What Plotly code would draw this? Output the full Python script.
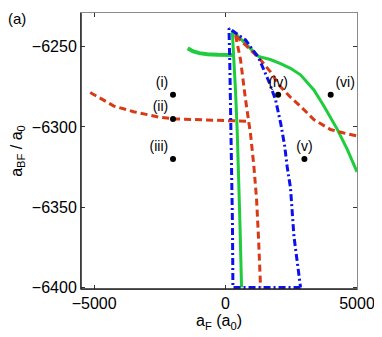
import plotly.graph_objects as go

# ── data ────────────────────────────────────────────────────────────────────
green_flat_x = [-1440, -1250, -1000, -700, -300, 100, 320]
green_flat_y = [-6251, -6252.8, -6254, -6254.7, -6255, -6255.2, -6255.2]

green_steep_x = [255, 330, 380, 444, 494, 550, 608]
green_steep_y = [-6240, -6260, -6278, -6303, -6326, -6362, -6400]

green_right_x = [255, 700, 1250, 1700, 2090, 2470, 2850, 3360, 3740, 4250, 4630, 5000]
green_right_y = [-6240, -6247, -6256, -6258, -6260.5, -6263.5, -6267.5, -6277, -6287, -6301.5, -6314, -6328]

red_flat_x = [-5150, -4250, -3500, -2980, -2500, -1960, -1000, 0, 500, 890]
red_flat_y = [-6278.5, -6287, -6290.5, -6292.3, -6294, -6295, -6295.6, -6296, -6296.3, -6296.5]

red_steep_x = [380, 570, 760, 951, 1076, 1179, 1255, 1331]
red_steep_y = [-6242.8, -6258.2, -6283, -6304.7, -6324.3, -6345, -6369.8, -6400]

red_right_x = [380, 800, 1267, 1700, 2091, 2470, 2852, 3357, 3992, 4500, 5000]
red_right_y = [-6243, -6249.5, -6257, -6265.5, -6275, -6281.5, -6287.2, -6295.4, -6301.6, -6303.8, -6305.6]

# blue loop: bottom edge, left branch up to the apex, right branch down
blue_x = [2852, 279, 262, 240, 195, 160, 130, 760, 1267, 1647, 1900, 2100, 2250, 2345, 2470, 2600, 2852]
blue_y = [-6400, -6400, -6360, -6330, -6296, -6260, -6238.6, -6245.8, -6257.2, -6271.7, -6283,
          -6298, -6312, -6325, -6338, -6368, -6400]

pts_x = [-2000, -2000, -2000, 2000, 3000, 4000]
pts_y = [-6280, -6295, -6320, -6280, -6320, -6280]
pts_lbl = ["(i)", "(ii)", "(iii)", "(iv)", "(v)", "(vi)"]

x_ticks = [-5000, 0, 5000]
y_ticks = [-6250, -6300, -6350, -6400]

VERDE = "#1fcc3c"
VERMELHO = "#d83a16"
AZUL = "#0a10ee"
FONTE = "Liberation Sans, Arial, sans-serif"

fig = go.Figure()

fig.add_trace(go.Scatter(x=green_flat_x, y=green_flat_y, mode="lines",
                         line=dict(color=VERDE, width=4)))
fig.add_trace(go.Scatter(x=green_steep_x, y=green_steep_y, mode="lines",
                         line=dict(color=VERDE, width=3)))
fig.add_trace(go.Scatter(x=green_right_x, y=green_right_y, mode="lines",
                         line=dict(color=VERDE, width=3)))

for xs, ys in [(red_flat_x, red_flat_y), (red_steep_x, red_steep_y), (red_right_x, red_right_y)]:
    fig.add_trace(go.Scatter(x=xs, y=ys, mode="lines",
                             line=dict(color=VERMELHO, width=3, dash="7px,4px")))

fig.add_trace(go.Scatter(x=blue_x, y=blue_y, mode="lines",
                         line=dict(color=AZUL, width=3, dash="7px,3px,2px,3px")))

pos = ["top left", "top left", "top left", "top center", "top center", "top right"]
fig.add_trace(go.Scatter(
    x=pts_x, y=pts_y, mode="markers+text",
    marker=dict(color="black", size=6),
    text=pts_lbl, textposition=pos,
    textfont=dict(size=14, color="black", family=FONTE),
))

eixo = dict(
    showgrid=False, zeroline=False, automargin=False,
    showline=True, linecolor="#8a8a8a", linewidth=1, mirror="ticks",
    ticks="inside", ticklen=4, tickcolor="#333",
    tickfont=dict(size=16, color="black", family=FONTE),
)

# the page body adds an 8px offset, so the figure is 8px smaller
fig.update_layout(
    width=374, height=329,
    margin=dict(l=73, r=25, t=5, b=48),
    paper_bgcolor="white", plot_bgcolor="white",
    showlegend=False,
    font=dict(family=FONTE, color="black"),
    xaxis=dict(**eixo, range=[-5500, 5000], tickvals=x_ticks,
               title=dict(text="a<sub>F</sub> (a<sub>0</sub>)", font=dict(size=16), standoff=2)),
    yaxis=dict(**eixo, range=[-6401, -6229], tickvals=y_ticks,
               title=dict(text="a<sub>BF</sub> / a<sub>0</sub>", font=dict(size=16), standoff=8)),
    shapes=[
        dict(type="line", xref="paper", yref="paper", x0=0, x1=0, y0=0, y1=1,
             line=dict(color="#222", width=1.5)),
        dict(type="line", xref="paper", yref="paper", x0=0, x1=1, y0=0, y1=0,
             line=dict(color="#222", width=1.5)),
    ],
    annotations=[dict(text="(a)", xref="paper", yref="paper", x=-0.272, y=1.017,
                      xanchor="left", yanchor="top", showarrow=False,
                      font=dict(size=15, color="black"))],
)

fig.write_html("out.html")
